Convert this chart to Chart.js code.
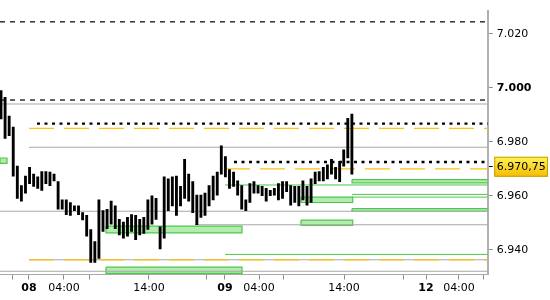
<!DOCTYPE html>
<html><head><meta charset="utf-8">
<script src="https://cdn.jsdelivr.net/npm/chart.js@4/dist/chart.umd.min.js"></script>
<style>html,body{margin:0;padding:0;background:#fff}</style>
</head><body>
<canvas id="c" width="550" height="300"></canvas>
<script>
// ---- data (30-minute bars, index 0 = first bar on screen) ----
const barHigh = [6999.0,6996.5,6989.5,6985.5,6971.0,6963.75,6967.25,6970.5,6968.0,6967.0,
  6969.0,6969.0,6968.75,6968.0,6965.25,6958.5,6958.5,6957.5,6956.25,6956.25,
  6953.75,6952.75,6947.5,6943.0,6958.5,6954.5,6955.0,6958.0,6956.25,6951.25,
  6950.25,6952.0,6953.0,6952.75,6951.25,6952.0,6958.5,6960.0,6959.0,6948.5,
  6967.0,6966.25,6967.0,6967.25,6963.5,6973.5,6968.0,6965.25,6960.25,6960.25,
  6961.0,6963.75,6967.25,6968.75,6978.5,6974.5,6969.75,6968.75,6965.5,6963.75,
  6958.5,6964.5,6965.25,6963.75,6963.5,6962.75,6962.0,6962.75,6964.5,6965.25,
  6965.25,6963.75,6963.5,6963.5,6965.5,6963.5,6966.25,6968.75,6969.0,6970.5,
  6971.5,6973.5,6970.5,6972.75,6977.0,6988.75,6990.25];
const barLow = [6988.5,6981.25,6982.25,6967.25,6959.0,6958.0,6961.0,6964.5,6963.5,6962.75,
  6962.0,6964.5,6963.75,6965.5,6955.0,6955.0,6953.0,6952.75,6954.5,6953.0,
  6951.0,6945.0,6935.25,6935.25,6936.75,6946.75,6947.75,6949.5,6947.75,6945.5,
  6944.25,6945.0,6946.75,6943.75,6945.5,6946.0,6947.5,6949.5,6951.25,6940.25,
  6944.25,6954.5,6956.25,6952.75,6956.25,6959.0,6958.0,6953.75,6949.25,6952.0,
  6952.75,6956.25,6958.5,6960.25,6968.0,6967.0,6962.75,6963.5,6960.25,6955.0,
  6954.5,6957.5,6961.0,6961.0,6960.0,6958.0,6960.0,6960.25,6958.5,6959.0,
  6961.5,6956.5,6957.5,6956.25,6958.5,6956.5,6957.5,6964.5,6965.5,6965.5,
  6966.25,6968.0,6966.25,6965.25,6971.0,6974.0,6968.0];

const lastPrice = 6970.75;
const yTickValues = [6940, 6960, 6970.75, 6980, 7000, 7020];
const boldLevel = 7000;
const xTickPositions = [2.7, 6.86, 15.44, 21.57, 36.27, 50.49, 54.9, 63.24, 69.36, 84.07, 98.77, 104.17, 112.25, 118.38];
const xTickLabels = ['', '08', '04:00', '', '14:00', '', '09', '04:00', '', '14:00', '', '12', '04:00', ''];
const dayLabels = ['08', '09', '12'];

const xMin = -0.245, xMax = 119.29;
const yMin = 6930.8, yMax = 7028.66;

// horizontal levels: value and starting bar index (all run to the right edge)
const dashedLevels = [7024.5, 6995.5];
const dashedStart  = [xMin, xMin];
const dottedLevels = [6986.75, 6972.5];
const dottedStart  = [8.82, 57.11];
const grayLevels   = [6994.0, 6978.0, 6954.25, 6949.25, 6936.25, 6932.0];
const grayStart    = [xMin, 6.86, xMin, 47.55, 6.86, xMin];
const orangeLevels = [6985.0, 6970.0, 6936.25];
const orangeStart  = [6.86, 54.9, 6.86];
const greenLevels  = [6964.0, 6960.5, 6959.5, 6938.25];
const greenStart   = [54.9, 86.03, 86.03, 54.9];

// zones: from-index, to-index, upper, lower
const zoneFrom  = [xMin, 25.73, 25.73, 73.53, 73.53, 86.03, 86.03];
const zoneTo    = [1.47, 59.07, 59.07, 86.2, 86.2, xMax, xMax];
const zoneHigh  = [6974.0, 6948.75, 6933.5, 6959.5, 6951.0, 6966.0, 6955.25];
const zoneLow   = [6972.0, 6946.25, 6931.25, 6957.5, 6949.0, 6964.75, 6954.25];

// ---- helpers ----
function fmtNum(v) {
  const r = Math.round(v * 100) / 100;
  const ip = Math.floor(r);
  const frac = Math.round((r - ip) * 100);
  const g = String(ip).replace(/\B(?=(\d{3})+(?!\d))/g, '.');
  return frac ? g + ',' + String(frac).padStart(2, '0') : g;
}
function levelSet(levels, starts, style) {
  return levels.map((v, i) => Object.assign({
    type: 'line',
    data: [{x: starts[i], y: v}, {x: xMax, y: v}],
    pointRadius: 0, fill: false, tension: 0
  }, style));
}

const datasets = [];
datasets.push({
  type: 'bar',
  data: barHigh.map((h, i) => ({x: i, y: [barLow[i], h]})),
  backgroundColor: '#000000',
  borderWidth: 0,
  barThickness: 2.2,
  grouped: false
});
datasets.push(...levelSet(dashedLevels, dashedStart, {borderColor: '#111', borderWidth: 1.3, borderDash: [5, 5]}));
datasets.push(...levelSet(dottedLevels, dottedStart, {borderColor: '#000', borderWidth: 2.4, borderDash: [3, 4.5]}));
datasets.push(...levelSet(orangeLevels, orangeStart, {borderColor: '#ffc20e', borderWidth: 1.2, borderDash: [25, 10]}));
datasets.push(...levelSet(greenLevels, greenStart, {borderColor: '#4cc84c', borderWidth: 1}));
datasets.push(...levelSet(grayLevels, grayStart, {borderColor: '#a9a9a9', borderWidth: 1.1}));
zoneFrom.forEach((x1, i) => {
  const x2 = zoneTo[i], hi = zoneHigh[i], lo = zoneLow[i];
  datasets.push({
    type: 'line',
    data: [{x: x1, y: hi}, {x: x2, y: hi}, {x: x2, y: lo}, {x: x1, y: lo}, {x: x1, y: hi}],
    borderColor: '#4cc84c', borderWidth: 1.2,
    backgroundColor: '#b4ecb0',
    fill: 'shape', pointRadius: 0, tension: 0
  });
});

const priceBox = {
  id: 'priceBox',
  beforeDraw(chart) {
    const s = chart.scales.y;
    const y = s.getPixelForValue(lastPrice);
    const ctx = chart.ctx;
    const left = s.left + 6.5, right = chart.width - 2;
    const g = ctx.createLinearGradient(0, y - 10, 0, y + 10);
    g.addColorStop(0, '#fff35a');
    g.addColorStop(1, '#f4bc00');
    ctx.save();
    ctx.fillStyle = g;
    ctx.fillRect(left, y - 10, right - left, 20);
    ctx.strokeStyle = '#c9a000';
    ctx.lineWidth = 1;
    ctx.strokeRect(left + 0.5, y - 9.5, right - left - 1, 19);
    ctx.restore();
  }
};

new Chart(document.getElementById('c'), {
  type: 'bar',
  data: {datasets},
  plugins: [priceBox],
  options: {
    responsive: false,
    animation: false,
    devicePixelRatio: 1,
    layout: {padding: 0},
    plugins: {legend: {display: false}, tooltip: {enabled: false}},
    scales: {
      x: {
        type: 'linear', min: xMin, max: xMax, offset: false, bounds: 'data',
        afterBuildTicks: s => { s.ticks = xTickPositions.map(v => ({value: v})); },
        afterFit: s => { s.height = 25.5; },
        grid: {drawOnChartArea: false, drawTicks: true, tickLength: 5, tickColor: '#8c8c8c', offset: false},
        border: {display: true, color: '#a9a9a9', width: 1},
        ticks: {
          autoSkip: false, maxRotation: 0, minRotation: 0, padding: 2, color: '#000',
          callback: (v, i) => xTickLabels[i],
          font: ctx => ({family: 'DejaVu Sans', size: 11,
            weight: (ctx.tick && dayLabels.includes(ctx.tick.label)) ? 'bold' : 'normal'})
        }
      },
      y: {
        type: 'linear', position: 'right', min: yMin, max: yMax, bounds: 'data',
        afterBuildTicks: s => { s.ticks = yTickValues.map(v => ({value: v})); },
        afterFit: s => { s.width = 62.3; },
        grid: {drawOnChartArea: false, drawTicks: true, tickLength: 5,
          tickColor: ctx => (ctx.tick && ctx.tick.value === lastPrice) ? '#000' : '#8c8c8c'},
        border: {display: true, color: '#b0b0b0', width: 2},
        ticks: {
          padding: 4, color: '#000',
          callback: v => fmtNum(v),
          font: ctx => ({family: 'DejaVu Sans', size: 11,
            weight: (ctx.tick && ctx.tick.value === boldLevel) ? 'bold' : 'normal'})
        }
      }
    }
  }
});
</script>
</body></html>
